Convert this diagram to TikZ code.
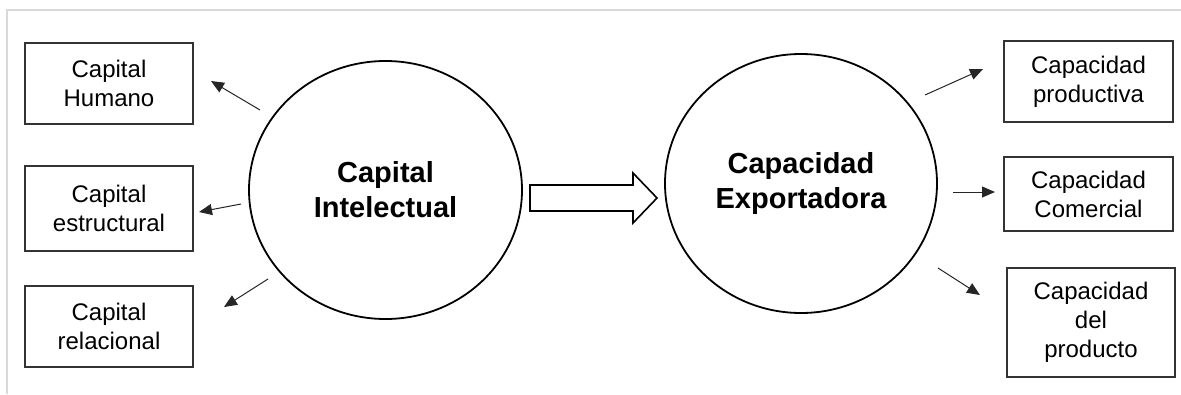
\documentclass[tikz,border=0pt]{standalone}
\usepackage{fontspec}
\setmainfont{Liberation Sans}
\usetikzlibrary{arrows.meta, shapes.geometric}

\begin{document}
\begin{tikzpicture}[x=1pt, y=-1pt,
    % Styles
    caja/.style={
        rectangle,
        draw=black!80,
        line width=1.1pt,
        minimum width=168pt,
        inner sep=0pt,
        align=center,
        font=\fontsize{24}{29}\selectfont
    },
    circulo/.style={
        ellipse,
        draw=black,
        line width=1.8pt,
        inner sep=0pt,
        align=center,
        font=\fontsize{29}{35}\selectfont\bfseries
    },
    flecha/.style={
        -{Triangle[length=13pt, width=11pt]},
        line width=1pt,
        draw=black!85
    },
    bloque/.style={
        draw=black,
        line width=1.6pt,
        fill=white,
        line join=miter
    },
    marco/.style={
        draw=black!15,
        line width=2pt
    }
]
\useasboundingbox (0,0) rectangle (1181,394);

% Frame
\draw[marco] (7,394) -- (7,10) -- (1181,10);

% Left boxes
\node[caja, minimum height=81pt] (humano) at (109,83.5) {Capital\\Humano};
\node[caja, minimum height=85pt] (estructural) at (109,208.5) {Capital\\estructural};
\node[caja, minimum height=81pt] (relacional) at (109,326.5) {Capital\\relacional};

% Circles
\node[circulo, minimum width=273pt, minimum height=258pt] (intelectual) at (385.5,190) {Capital\\Intelectual};
\node[circulo, minimum width=272pt, minimum height=259pt] (exportadora) at (801,183.5) {Capacidad\\Exportadora};

% Right boxes
\node[caja, minimum width=169pt, minimum height=81pt] (productiva) at (1088.5,81.5) {Capacidad\\productiva};
\node[caja, minimum width=169pt, minimum height=74pt] (comercial) at (1088.5,194) {Capacidad\\Comercial};
\node[caja, minimum height=109pt] (producto) at (1091,322.5) {Capacidad\\del\\producto};

% Block arrow
\draw[bloque] (530,185) -- (633,185) -- (633,173) -- (657,198) -- (633,223) -- (633,211) -- (530,211) -- cycle;

% Small arrows
\coordinate (hum0) at (260,110);
\coordinate (hum1) at (211,81);
\coordinate (est0) at (241,204);
\coordinate (est1) at (199,212);
\coordinate (rel0) at (268,279);
\coordinate (rel1) at (224,307);
\coordinate (prod0) at (925,95);
\coordinate (prod1) at (983,69);
\coordinate (com0) at (953,192);
\coordinate (com1) at (995,192);
\coordinate (pro0) at (938,268);
\coordinate (pro1) at (980,295);

\draw[flecha] (hum0) -- (hum1);
\draw[flecha] (est0) -- (est1);
\draw[flecha] (rel0) -- (rel1);
\draw[flecha] (prod0) -- (prod1);
\draw[flecha] (com0) -- (com1);
\draw[flecha] (pro0) -- (pro1);

\end{tikzpicture}
\end{document}
